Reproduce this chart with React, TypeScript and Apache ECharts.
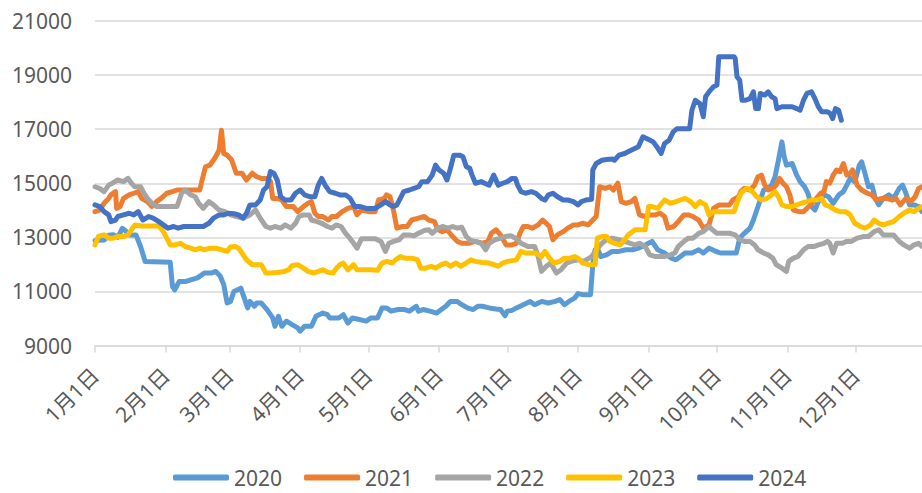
import React, { useEffect, useRef } from 'react';
import * as echarts from 'echarts';

// x = day of year (0 = Jan 1), y = price
const monthDays = [0, 31, 59, 90, 120, 151, 181, 212, 243, 273, 304, 334];
const monthLabels = ['1月1日', '2月1日', '3月1日', '4月1日', '5月1日', '6月1日', '7月1日', '8月1日', '9月1日', '10月1日', '11月1日', '12月1日'];
const yTicks = [9000, 11000, 13000, 15000, 17000, 19000, 21000];
const years = ['2020', '2021', '2022', '2023', '2024'];

const s2020: [number, number][] = [
  [0, 12880], [4, 12900], [6, 13080], [8, 13100], [10, 13000], [12, 13330], [13, 13270], [15, 13090], [18, 13090], [20, 12660],
  [22, 12110], [33, 12080], [34, 11190], [35, 11060], [37, 11370], [40, 11370], [42, 11430], [45, 11500], [48, 11680], [51, 11680],
  [53, 11740], [55, 11560], [56.5, 11250], [58, 10570], [59.5, 10630], [61, 11000], [64, 11120], [65, 10880], [67, 10390], [68, 10630],
  [70, 10450], [71, 10570], [73, 10570], [75.5, 10330], [78, 10020], [79, 9710], [80.5, 10080], [82, 9710], [84, 9900], [86.5, 9770],
  [89, 9650], [90, 9530], [92, 9710], [95, 9710], [97, 10080], [100, 10200], [102, 10140], [103, 10020], [107, 10020], [109, 10140],
  [111, 9830], [113, 10020], [116, 9960], [119, 9900], [121, 10020], [124, 10020], [126, 10390], [128, 10390], [130, 10270], [133, 10330],
  [136, 10330], [138, 10270], [141, 10450], [142, 10270], [144, 10330], [147, 10270], [150, 10200], [152, 10330], [154, 10450], [156, 10630],
  [159, 10630], [161, 10510], [163.5, 10390], [166, 10330], [168, 10450], [170, 10450], [173, 10390], [176, 10350], [178, 10330], [180, 10100],
  [181, 10270], [183, 10300], [185, 10390], [188, 10510], [191, 10630], [193, 10510], [196, 10630], [199, 10570], [202, 10630], [204, 10700],
  [206, 10510], [208, 10630], [210.5, 10750], [212, 10920], [214, 10880], [217.5, 10880], [218.5, 12000], [219.5, 12540], [220.5, 12600], [222, 12290],
  [224.5, 12350], [227, 12480], [230, 12480], [233, 12540], [236, 12540], [238.5, 12600], [241.5, 12720], [244.5, 12850], [247, 12540], [250, 12420],
  [253, 12230], [255, 12170], [257, 12290], [259, 12420], [262, 12420], [265, 12540], [267, 12420], [269.5, 12600], [272, 12500], [274.5, 12420],
  [281.5, 12420], [283, 12970], [285, 13150], [287.5, 13340], [289, 13640], [290.5, 14010], [292, 14380], [293.5, 14750], [295.5, 14810], [297, 14930],
  [298.5, 15240], [300, 15860], [301.5, 16530], [302.5, 15980], [303.5, 15670], [306, 15730], [308, 15300], [309.5, 15060], [311.5, 14870], [313, 14620],
  [314.5, 14140], [316, 14010], [317.5, 14320], [320, 14570], [322, 14500], [324, 14260], [326.5, 14570], [328.5, 14690], [330, 14930], [331.5, 15180],
  [333.5, 15060], [335.5, 15670], [336.5, 15790], [338, 15360], [339.5, 14870], [341, 14930], [342.5, 14440], [344, 14200], [346, 14440], [348.5, 14570],
  [350.5, 14440], [353, 14810], [354.5, 14930], [356, 14620], [357.5, 14200], [359.5, 14200], [361.5, 14140], [363, 13950],
];

const s2021: [number, number][] = [
  [0, 13950], [2, 14010], [4, 14260], [6, 14440], [7, 14570], [9, 14690], [9.5, 14070], [11, 14140], [12.5, 14440], [15, 14570],
  [17, 14630], [19, 14690], [20.5, 14440], [23, 14320], [25, 14140], [27, 14320], [29, 14440], [31.5, 14630], [34, 14690], [36, 14750],
  [46, 14750], [47, 15120], [48.5, 15610], [50.5, 15670], [53, 15980], [54.5, 16230], [55.5, 16960], [56.5, 16100], [58, 16040], [60, 15860],
  [62, 15370], [64.5, 15370], [66.5, 15120], [69, 15370], [71, 15240], [73, 15180], [75.5, 15180], [77, 15060], [78, 14440], [80, 14440],
  [82, 14380], [84, 14140], [87, 14140], [89, 13950], [91.5, 14140], [93.5, 14260], [95, 14320], [96.5, 13890], [98, 13770], [100, 13770],
  [102.5, 13640], [104, 13770], [106, 13770], [108.5, 13950], [111, 14070], [113.5, 14140], [115, 13830], [117, 14010], [120, 13950], [123, 13950],
  [124.5, 14380], [127, 14440], [128, 14570], [129.5, 14500], [131, 14010], [132.5, 13340], [135, 13400], [137, 13400], [139, 13640], [142, 13710],
  [144.5, 13770], [146.5, 13640], [149, 13580], [150.5, 13280], [152.5, 13210], [154.5, 13280], [157, 13030], [159, 12850], [161, 12780], [164, 12780],
  [167, 12850], [170, 12780], [172.5, 12850], [174, 13150], [176, 13280], [178, 13090], [180.5, 12720], [183, 12720], [185, 12780], [186.5, 13150],
  [188, 13400], [190, 13400], [192, 13340], [194.5, 13460], [196.5, 13640], [198, 13520], [199.5, 13400], [201, 12910], [203, 13090], [205.5, 13210],
  [207.5, 13340], [210, 13460], [212, 13460], [214, 13520], [216.5, 13460], [218.5, 13640], [220, 13770], [221.5, 14870], [224, 14810], [226, 14870],
  [227.5, 14750], [229.5, 15000], [231, 14320], [233, 14260], [235.5, 14320], [237, 14440], [239, 13830], [241.5, 13770], [243.5, 13830], [246, 13830],
  [248, 13890], [250, 13770], [251.5, 13340], [254, 13400], [256, 13580], [258.5, 13830], [260.5, 13830], [262.5, 13770], [265, 13640], [267, 13340],
  [269.5, 13460], [271.5, 14070], [274, 14200], [278.5, 14200], [280, 14380], [282.5, 14500], [283.5, 14690], [285, 14810], [287.5, 14750], [289.5, 14930],
  [291, 15240], [292.5, 15300], [294, 14930], [295.5, 14750], [297.5, 14810], [299, 14930], [300.5, 15180], [302, 15000], [303.5, 14870], [305, 14570],
  [306.5, 14010], [309, 13950], [311, 13950], [312.5, 14070], [316, 14380], [318.5, 14630], [320, 14690], [321, 15060], [322.5, 15000], [324, 15300],
  [325.5, 15490], [327, 15430], [328.5, 15730], [330, 15300], [331.5, 15370], [332.5, 15490], [334.5, 14930], [336.5, 14750], [339, 14630], [341, 14570],
  [343, 14380], [345.5, 14440], [347.5, 14440], [350, 14380], [351.5, 14440], [353.5, 14200], [356, 14440], [358, 14320], [360, 14500], [361.5, 14810],
  [363, 14870],
];

const s2022: [number, number][] = [
  [0, 14870], [2, 14810], [4, 14690], [6, 14930], [8, 15020], [10, 15120], [12.5, 15060], [14.5, 15180], [16, 15000], [17.5, 14870],
  [20, 14870], [21.5, 14630], [23, 14440], [25, 14260], [27, 14140], [36, 14140], [38, 14630], [39.5, 14750], [42, 14570], [44, 14500],
  [45.5, 14260], [47.5, 14070], [50, 14320], [52, 14200], [54.5, 14010], [57, 13950], [59.5, 13830], [62, 13770], [65, 13710], [68, 13830],
  [70.5, 14010], [72.5, 13710], [75, 13400], [77, 13340], [79, 13400], [81.5, 13340], [83.5, 13460], [86, 13340], [88, 13520], [89.5, 13770],
  [91.5, 13830], [94, 13830], [95, 13640], [97.5, 13580], [99.5, 13520], [102, 13400], [104, 13340], [106, 13460], [108, 13400], [110, 13150],
  [112, 12950], [113.5, 12780], [115, 12600], [117, 12950], [123, 12950], [125.5, 12850], [127.5, 12480], [129, 12780], [131, 12850], [133.5, 12910],
  [135.5, 13090], [138, 13090], [140, 13060], [142, 13150], [144.5, 13250], [146.5, 13280], [148, 13150], [150.5, 13340], [152.5, 13400], [155, 13340],
  [157, 13400], [159, 13340], [161, 13370], [163, 13030], [165, 12880], [167, 12850], [169.5, 12780], [171.5, 12540], [173, 12780], [175.5, 12910],
  [177.5, 12950], [180, 13030], [182.5, 13060], [185, 12950], [187, 12780], [190, 12660], [193, 12660], [194.5, 12290], [196, 11740], [198, 11920],
  [200, 12050], [202.5, 11680], [204.5, 11800], [207, 12050], [209, 12110], [212, 12170], [214.5, 12110], [218, 12290], [220, 12540], [222.5, 12780],
  [224.5, 12910], [227, 12970], [230, 12910], [232.5, 12850], [235, 12780], [237, 12720], [239, 12780], [241.5, 12660], [243.5, 12350], [246, 12290],
  [250, 12290], [252.5, 12350], [254.5, 12420], [256, 12660], [258.5, 12850], [260.5, 12970], [262.5, 12970], [265, 13150], [267, 13210], [269.5, 13400],
  [271, 13280], [273, 13150], [278.5, 13150], [281, 13090], [283, 12910], [285, 12850], [287.5, 12850], [289.5, 12720], [291, 12540], [293.5, 12420],
  [295.5, 12350], [297.5, 12230], [299, 11990], [301.5, 11860], [303.5, 11740], [304.5, 12110], [306.5, 12230], [308.5, 12290], [311, 12540], [313, 12660],
  [315.5, 12660], [317.5, 12720], [320, 12780], [321.5, 12850], [322.5, 12780], [324, 12420], [325.5, 12780], [328, 12780], [330, 12850], [332, 12850],
  [334.5, 12970], [337.5, 13030], [339.5, 13030], [342, 13210], [344, 13280], [346, 13090], [350.5, 13090], [353, 12850], [355, 12720], [357.5, 12600],
  [359.5, 12720], [361.5, 12780], [363, 12660],
];

const s2023: [number, number][] = [
  [0, 12720], [1.5, 13030], [4, 13090], [6, 12970], [8, 12970], [10, 13030], [12.5, 13030], [14.5, 13090], [16, 13280], [17.5, 13460],
  [20, 13420], [28, 13420], [30, 13210], [31.5, 12970], [33, 12720], [35, 12720], [37.5, 12780], [39.5, 12660], [42, 12600], [44, 12540],
  [46, 12600], [48, 12540], [50.5, 12600], [53, 12600], [55.5, 12540], [58, 12480], [59.5, 12640], [61.5, 12660], [63, 12600], [64.5, 12420],
  [66.5, 12170], [69, 11990], [73, 11990], [75, 11680], [77, 11680], [80, 11700], [83, 11740], [85, 11800], [86.5, 11950], [89, 11990],
  [91.5, 11860], [93.5, 11740], [96, 11680], [98, 11740], [100, 11800], [102.5, 11700], [104.5, 11680], [106, 11860], [107.5, 11990], [109, 12050],
  [111, 11800], [113.5, 11990], [115, 11800], [118, 11800], [121, 11800], [124, 11780], [126, 12050], [128, 12110], [130.5, 12050], [132, 12170],
  [134, 12290], [136, 12230], [139, 12230], [141.5, 12170], [143, 11860], [145, 11860], [147.5, 11930], [149.5, 11860], [152, 11990], [154, 12050],
  [156, 11930], [158.5, 12050], [160.5, 11930], [163, 12050], [165, 12170], [167, 12110], [170, 12070], [173, 12050], [175, 11990], [177, 11930],
  [179, 12050], [181, 12110], [183, 12140], [185, 12170], [187, 12480], [189, 12420], [193.5, 12420], [196, 12290], [197.5, 12480], [199.5, 12230],
  [201.5, 12050], [204, 12110], [206, 12230], [208.5, 12230], [210.5, 12290], [212, 12230], [214, 12050], [216.5, 11990], [219.5, 11990], [220.5, 12970],
  [222.5, 13030], [224.5, 13030], [226, 12850], [228, 12780], [230.5, 12720], [232.5, 12910], [234, 13090], [237, 13280], [241.5, 13280], [243, 14140],
  [244.5, 14140], [247, 14070], [250, 14380], [252.5, 14260], [255, 14320], [257, 14380], [259, 14440], [261.5, 14320], [263.5, 14140], [265.5, 14320],
  [268, 14200], [269.5, 13830], [271.5, 13950], [280.5, 13950], [282, 14320], [283.5, 14630], [286, 14810], [288, 14750], [290.5, 14500], [292.5, 14380],
  [295, 14440], [297, 14570], [298.5, 14690], [300, 14500], [301.5, 14200], [303.5, 14140], [306, 14140], [308, 14200], [310, 14260], [312.5, 14320],
  [314.5, 14380], [317, 14380], [319, 14440], [320.5, 14200], [322.5, 14140], [325, 14010], [327, 13950], [329.5, 13950], [331.5, 13830], [333.5, 13520],
  [336, 13400], [338, 13340], [340.5, 13460], [342, 13640], [344, 13520], [346, 13460], [348, 13520], [350.5, 13580], [353, 13770], [355, 13890],
  [357.5, 14010], [359.5, 13950], [361.5, 14070], [363, 14140],
];

const s2024: [number, number][] = [
  [0, 14200], [2, 14140], [4, 13950], [6, 13830], [7, 13580], [9, 13640], [10, 13770], [12.5, 13830], [15, 13890], [17, 13830],
  [19, 13950], [21, 13640], [23.5, 13770], [25.5, 13710], [28, 13580], [30, 13460], [32, 13340], [34.5, 13400], [36.5, 13340], [39, 13400],
  [47.5, 13400], [50, 13520], [52, 13710], [54.5, 13830], [56.5, 13830], [58.5, 13890], [61, 13870], [63, 13830], [65, 13710], [66.5, 13890],
  [68, 14200], [70.5, 14200], [72.5, 14380], [74, 14750], [75.5, 14870], [77, 15430], [78.5, 15370], [80, 15120], [81.5, 14500], [83.5, 14380],
  [86, 14380], [88, 14630], [90, 14750], [92, 14570], [94.5, 14500], [96.5, 14500], [98, 14930], [99.5, 15180], [101, 14930], [103, 14690],
  [105.5, 14630], [107.5, 14570], [110, 14570], [112, 14440], [114, 14140], [116.5, 14140], [119, 14070], [123, 14070], [125.5, 14200], [127.5, 14320],
  [129.5, 14200], [131, 14140], [132.5, 14200], [134, 14440], [135.5, 14690], [138, 14750], [140, 14810], [142, 14870], [143.5, 15060], [146, 15060],
  [148, 15300], [149.5, 15670], [151, 15490], [153, 15370], [154.5, 15120], [156, 15550], [157.5, 16040], [160, 16040], [161.5, 15980], [163, 15610],
  [164.5, 15550], [165.5, 15300], [167, 15000], [169.5, 15060], [171, 15000], [173, 14930], [175, 15300], [177, 14930], [179, 15000], [181, 15060],
  [183, 15180], [184.5, 15180], [185.5, 14930], [187, 14690], [189, 14630], [191.5, 14690], [193.5, 14630], [196, 14440], [197.5, 14380], [199, 14570],
  [201, 14630], [203, 14500], [205.5, 14380], [207.5, 14380], [210, 14320], [212, 14200], [213.5, 14320], [215.5, 14380], [218, 14410], [218.5, 15490],
  [220, 15730], [222.5, 15850], [224.5, 15880], [227, 15900], [228, 15850], [230, 16040], [232.5, 16100], [235.5, 16230], [238.5, 16350], [240.5, 16720],
  [243, 16620], [245, 16530], [247, 16300], [248.5, 16100], [250, 16470], [252, 16590], [253.8, 16900], [255.5, 17020], [261, 17020], [262, 17700],
  [263.5, 18070], [265.5, 17950], [267, 17460], [268, 18200], [269.5, 18380], [271.5, 18570], [273, 18630], [273.8, 19680], [280.5, 19680], [281, 19620],
  [281.8, 18940], [283, 18810], [284, 18070], [285.5, 18070], [287.5, 18130], [289, 18380], [290, 17760], [291.2, 17760], [292, 18320], [294, 18260],
  [295.5, 18380], [297, 18200], [298.5, 18130], [299.3, 17760], [301.5, 17830], [306, 17830], [308, 17760], [309.5, 17700], [311, 18070], [312.5, 18320],
  [314.5, 18380], [316, 18130], [317.5, 17830], [319, 17640], [321.5, 17640], [322.7, 17580], [323.8, 17390], [325, 17760], [326.4, 17700], [327.6, 17330],
];

const seriesData = [s2020, s2021, s2022, s2023, s2024];
const colors = ['#5b9bd5', '#ed7d31', '#a5a5a5', '#ffc000', '#4472c4'];

const textColor = '#595959';
const gridColor = '#d9d9d9';
const font = '"Noto Sans", "Noto Sans CJK SC", sans-serif';

const App: React.FC = () => {
  const chartRef = useRef<HTMLDivElement>(null);

  useEffect(() => {
    document.body.style.margin = '0';
    if (!chartRef.current) return;
    const chart = echarts.init(chartRef.current, undefined, { renderer: 'svg' });

    const option: echarts.EChartsOption = {
      animation: false,
      backgroundColor: '#ffffff',
      grid: { left: 95, right: 0, top: 21, bottom: 147.5, containLabel: false },
      legend: {
        data: years,
        left: 173,
        top: 467,
        padding: 0,
        itemWidth: 56,
        itemHeight: 6,
        itemGap: 22,
        symbolKeepAspect: false,
        icon: 'roundRect',
        textStyle: { color: textColor, fontSize: 21, fontFamily: font },
      },
      xAxis: {
        type: 'value',
        min: 0,
        max: 363,
        splitLine: { show: false },
        axisLine: { show: true, lineStyle: { color: gridColor, width: 1.5 } },
        axisTick: {
          show: true,
          inside: false,
          length: 7,
          customValues: monthDays,
          lineStyle: { color: gridColor, width: 1.5 },
        },
        axisLabel: {
          customValues: monthDays,
          rotate: 45,
          margin: 26,
          color: textColor,
          fontSize: 21,
          fontFamily: font,
          formatter: (v: number) => {
            const i = monthDays.indexOf(Math.round(v));
            return i >= 0 ? monthLabels[i] : '';
          },
        },
      },
      yAxis: {
        type: 'value',
        min: yTicks[0],
        max: yTicks[yTicks.length - 1],
        interval: 2000,
        axisLine: { show: false },
        axisTick: { show: false },
        splitLine: { lineStyle: { color: gridColor, width: 1.5 } },
        axisLabel: {
          color: textColor,
          fontSize: 21,
          fontFamily: font,
          margin: 23,
          formatter: (v: number) => String(v),
        },
      },
      series: years.map((name, i) => ({
        name,
        type: 'line',
        data: seriesData[i],
        symbol: 'none',
        showSymbol: false,
        color: colors[i],
        lineStyle: { color: colors[i], width: 5, cap: 'round', join: 'round' },
        emphasis: { disabled: true },
      })),
    };

    chart.setOption(option);
    return () => {
      chart.dispose();
    };
  }, []);

  return <div ref={chartRef} style={{ width: 922, height: 493 }} />;
};

export default App;
